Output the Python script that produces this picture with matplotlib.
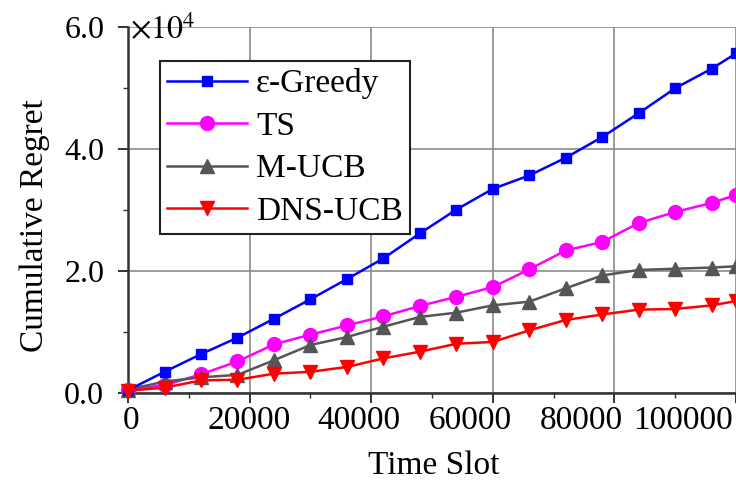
import matplotlib
matplotlib.use('Agg')
import matplotlib.pyplot as plt
import matplotlib.transforms as mtransforms
from matplotlib.ticker import MultipleLocator, FuncFormatter, NullFormatter

plt.rcParams['font.family'] = ['Liberation Serif', 'DejaVu Serif']
plt.rcParams['mathtext.fontset'] = 'stix'

time_slot = [0, 6000, 12000, 18000, 24000, 30000, 36000, 42000, 48000,
             54000, 60000, 66000, 72000, 78000, 84000, 90000, 96000, 100000]
greedy = [500, 3500, 6400, 9100, 12200, 15400, 18700, 22100, 26200,
          30100, 33500, 35700, 38600, 42000, 45900, 50000, 53200, 55700]
ts = [600, 1300, 3100, 5200, 8000, 9600, 11100, 12600, 14300,
      15800, 17400, 20300, 23400, 24800, 27900, 29700, 31200, 32500]
mucb = [600, 1900, 2600, 3000, 5400, 7900, 9200, 10900, 12500,
        13200, 14400, 15000, 17200, 19300, 20200, 20400, 20600, 20800]
dnsucb = [400, 900, 2100, 2200, 3200, 3500, 4300, 5700, 6800,
          8100, 8400, 10300, 12000, 12900, 13700, 13800, 14400, 15100]
x_ticks = [0, 20000, 40000, 60000, 80000, 100000]

fig = plt.figure(figsize=(7.36, 4.86), dpi=100)
ax = fig.add_axes([0.174, 0.191, 0.826, 0.753])

lw = 1.8
ax.plot(time_slot, greedy, color='#0000FF', lw=lw, marker='s', ms=7.5,
        label='ε-Greedy', zorder=5, clip_on=False)
ax.plot(time_slot, ts, color='#FF00FF', lw=lw, marker='o', ms=10,
        label='TS', zorder=4, clip_on=False)
ax.plot(time_slot, mucb, color='#555555', lw=lw, marker='^', ms=9.5,
        label='M-UCB', zorder=4, clip_on=False)
ax.plot(time_slot, dnsucb, color='#FF0000', lw=lw, marker='v', ms=9.5,
        label='DNS-UCB', zorder=6, clip_on=False)

ax.set_xlim(0, 100000)
ax.set_ylim(0, 60000)
ax.set_xticks(x_ticks)
ax.xaxis.set_minor_locator(MultipleLocator(10000))
ax.xaxis.set_major_formatter(NullFormatter())
ax.yaxis.set_major_locator(MultipleLocator(20000))
ax.yaxis.set_minor_locator(MultipleLocator(10000))
ax.yaxis.set_major_formatter(FuncFormatter(lambda v, p: f'{v / 1e4:.1f}'))

ax.tick_params(which='major', direction='out', length=7.2, width=1.4,
               color='#333333')
ax.tick_params(which='minor', direction='out', length=3.5, width=1.0,
               color='#333333')
ax.tick_params(axis='y', which='major', pad=10, labelsize=23)

# tick labels of the x axis drift left of their ticks in the original
shifts = [3, -1, -12, -23, -33, -53]
for xv, dx in zip(x_ticks, shifts):
    tr = ax.get_xaxis_transform() + mtransforms.ScaledTranslation(
        dx / 100, -0.12, fig.dpi_scale_trans)
    ax.text(xv, 0, f'{xv}', transform=tr, ha='center', va='top',
            fontsize=24, clip_on=False)

ax.grid(which='major', color='#8a8a8a', lw=1.2)
ax.set_axisbelow(True)
ax.yaxis.get_gridlines()[-1].set_visible(False)

for s in ['top', 'right']:
    ax.spines[s].set_visible(False)
for s in ['left', 'bottom']:
    ax.spines[s].set_linewidth(1.8)
    ax.spines[s].set_color('#333333')

ax.set_xlabel('Time Slot', fontsize=24, va='top')
ax.xaxis.set_label_coords(0.503, -0.157)
ax.set_ylabel('Cumulative Regret', fontsize=24)
ax.yaxis.set_label_coords(-0.128, 0.459)

ax.text(0.003, 0.99, r'$\times10^4$', transform=ax.transAxes,
        fontsize=23, va='center', ha='left')

leg = ax.legend(loc='upper left', bbox_to_anchor=(0.052, 0.908),
                fontsize=24, frameon=True, fancybox=False, framealpha=1,
                edgecolor='#222222', handlelength=2.4, handletextpad=0.27,
                borderpad=0.22, labelspacing=0.36, borderaxespad=0)
leg.get_frame().set_linewidth(1.5)
leg.set_zorder(10)

fig.savefig('out.png', dpi=100)
